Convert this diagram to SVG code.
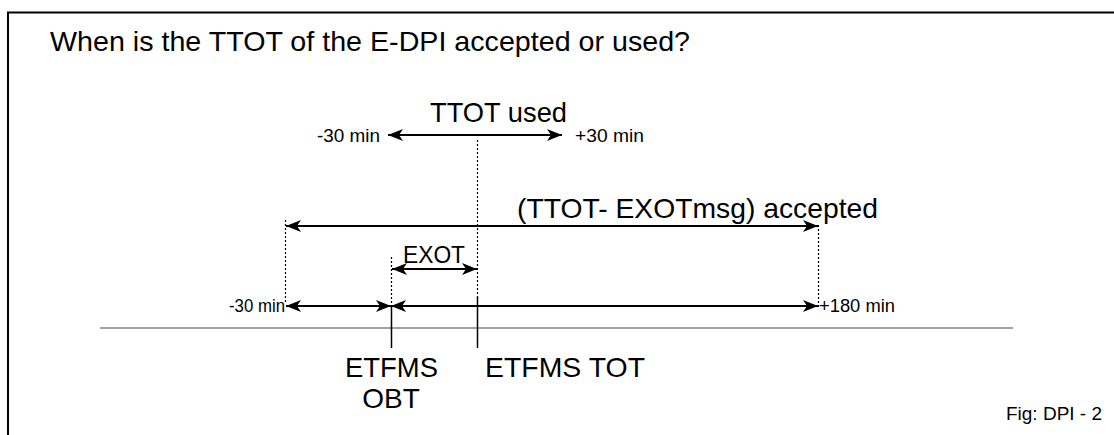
<svg xmlns="http://www.w3.org/2000/svg" width="1114" height="435" viewBox="0 0 1114 435">
  <style>
    text { font-family: "Liberation Sans", Arial, sans-serif; fill: #000; }
    .frame { stroke: #000; stroke-width: 2; fill: none; }
    .axis { stroke: #444; stroke-width: 1.2; }
    .arrow { stroke: #000; stroke-width: 1.8; fill: none; }
    .dot { stroke: #000; stroke-width: 1.2; stroke-dasharray: 2 2; }
    .tick { stroke: #000; stroke-width: 1.5; }
    .big { font-size: 28px; }
    .small { font-size: 18px; }
  </style>
  <defs>
    <marker id="head" viewBox="0 0 15 12" refX="15" refY="6" markerWidth="15" markerHeight="12" markerUnits="userSpaceOnUse" orient="auto-start-reverse">
      <path d="M0,0 L15,6 L0,12 L4,6 Z" fill="#000"/>
    </marker>
  </defs>

  <!-- page frame -->
  <path class="frame" d="M8,435 V12.5 H1114"/>

  <text id="title" class="big" x="50" y="51" textLength="640" lengthAdjust="spacingAndGlyphs">When is the TTOT of the E-DPI accepted or used?</text>

  <!-- time axis -->
  <line class="axis" x1="100" y1="328" x2="1013" y2="328"/>

  <g id="connectors">
    <!-- TTOT used window -->
    <line class="arrow" x1="388" y1="135" x2="562" y2="135" marker-start="url(#head)" marker-end="url(#head)"/>
    <!-- accepted window -->
    <line class="arrow" x1="286" y1="226" x2="818" y2="226" marker-start="url(#head)" marker-end="url(#head)"/>
    <!-- EXOT -->
    <line class="arrow" x1="392" y1="269" x2="477" y2="269" marker-start="url(#head)" marker-end="url(#head)"/>
    <!-- -30 min to OBT -->
    <line class="arrow" x1="286" y1="306" x2="391" y2="306" marker-start="url(#head)" marker-end="url(#head)"/>
    <!-- OBT to +180 min -->
    <line class="arrow" x1="391" y1="306" x2="818" y2="306" marker-start="url(#head)" marker-end="url(#head)"/>

    <!-- dotted guides -->
    <line class="dot" x1="477.5" y1="140" x2="477.5" y2="298"/>
    <line class="dot" x1="285.5" y1="220" x2="285.5" y2="302"/>
    <line class="dot" x1="818.5" y1="225" x2="818.5" y2="307"/>
    <line class="dot" x1="391.5" y1="257" x2="391.5" y2="306"/>
  </g>

  <g id="node-ttot-used">
    <text class="big" x="430" y="122" textLength="137" lengthAdjust="spacingAndGlyphs">TTOT used</text>
    <text class="small" x="317" y="142" textLength="63" lengthAdjust="spacingAndGlyphs">-30 min</text>
    <text class="small" x="575" y="142" textLength="69" lengthAdjust="spacingAndGlyphs">+30 min</text>
  </g>

  <g id="node-accepted">
    <text class="big" x="517" y="218" textLength="361" lengthAdjust="spacingAndGlyphs">(TTOT- EXOTmsg) accepted</text>
  </g>

  <g id="node-exot">
    <text x="403" y="263" font-size="24" textLength="62" lengthAdjust="spacingAndGlyphs">EXOT</text>
  </g>

  <g id="node-limits">
    <text class="small" x="229" y="312" textLength="56" lengthAdjust="spacingAndGlyphs">-30 min</text>
    <text class="small" x="819" y="312" textLength="76" lengthAdjust="spacingAndGlyphs">+180 min</text>
  </g>

  <g id="node-obt">
    <line class="tick" x1="391.5" y1="306" x2="391.5" y2="348"/>
    <text class="big" x="345" y="377" textLength="93" lengthAdjust="spacingAndGlyphs">ETFMS</text>
    <text class="big" x="391" y="408" text-anchor="middle">OBT</text>
  </g>

  <g id="node-tot">
    <line class="tick" x1="477.5" y1="297" x2="477.5" y2="348"/>
    <text class="big" x="485" y="377" textLength="160" lengthAdjust="spacingAndGlyphs">ETFMS TOT</text>
  </g>

  <g id="caption">
    <text class="small" x="1006" y="420" textLength="96" lengthAdjust="spacingAndGlyphs">Fig: DPI - 2</text>
  </g>
</svg>
